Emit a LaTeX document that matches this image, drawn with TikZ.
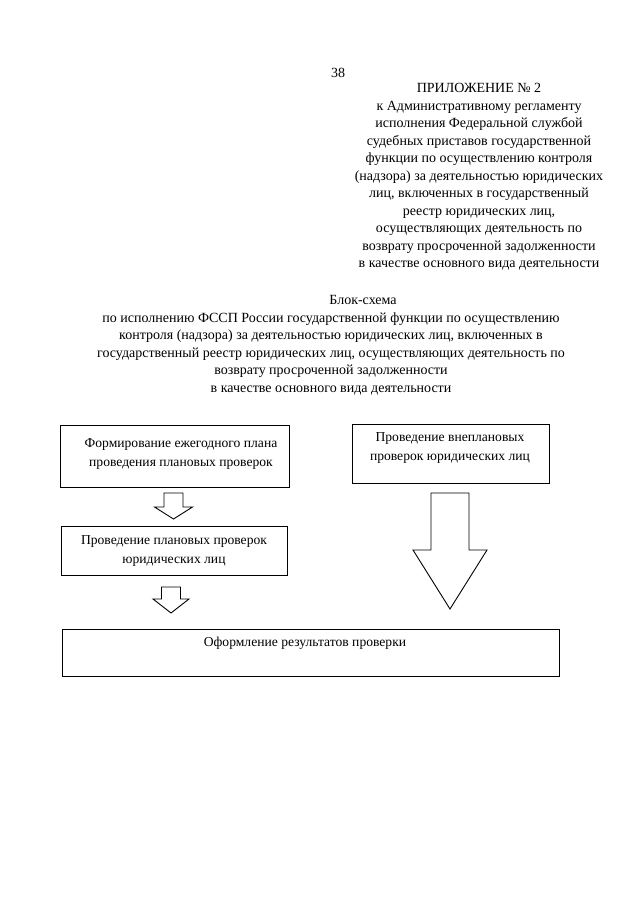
\documentclass[tikz,border=0pt]{standalone}
\usepackage{fontspec}
\setmainfont{Liberation Serif}
\newcommand\hollowdown[6]{%
  \draw[arrowshape] (#1-#5,#2) -- (#1+#5,#2) -- (#1+#5,#3) -- (#1+#6,#3) -- (#1,#4) -- (#1-#6,#3) -- (#1-#5,#3) -- cycle;}
\begin{document}
\begin{tikzpicture}[x=1pt,y=-1pt,
  txt/.style={font=\fontsize{14}{17.5}\selectfont, inner sep=0pt, align=center},
  btxt/.style={font=\fontsize{13.6}{18.5}\selectfont, inner sep=0pt, align=center},
  boxframe/.style={draw, line width=0.9pt, inner sep=0pt},
  arrowshape/.style={draw, line width=0.9pt, line join=miter}]
\useasboundingbox (0,0) rectangle (640,905);
\fill[white] (0,0) rectangle (640,905);
% page number
\node[txt] (page) at (338,73) {38};
% appendix header
\node[txt] (appx) at (479,177) {ПРИЛОЖЕНИЕ № 2\\
к Административному регламенту\\
исполнения Федеральной службой\\
судебных приставов государственной\\
функции по осуществлению контроля\\
(надзора) за деятельностью юридических\\
лиц, включенных в государственный\\
реестр юридических лиц,\\
осуществляющих деятельность по\\
возврату просроченной задолженности\\
в качестве основного вида деятельности};
% title
\node[txt] (ttl) at (363,300) {Блок-схема};
\node[txt] (sub) at (331,353.5) {по исполнению ФССП России государственной функции по осуществлению\\
контроля (надзора) за деятельностью юридических лиц, включенных в\\
государственный реестр юридических лиц, осуществляющих деятельность по\\
возврату просроченной задолженности\\
в качестве основного вида деятельности};
% boxes
\node[boxframe, minimum width=229pt, minimum height=62pt] (b1) at (174.5,456) {};
\node[btxt] (t1) at (181,454) {Формирование ежегодного плана\\проведения плановых проверок};
\node[boxframe, minimum width=197pt, minimum height=59pt] (b2) at (450.5,453.5) {};
\node[btxt] (t2) at (450,448) {Проведение внеплановых\\проверок юридических лиц};
\node[boxframe, minimum width=226pt, minimum height=49pt] (b3) at (174,550.5) {};
\node[btxt] (t3) at (174,551) {Проведение плановых проверок\\юридических лиц};
\node[boxframe, minimum width=497pt, minimum height=47pt] (b4) at (310.5,652.5) {};
\node[btxt] (t4) at (305,643) {Оформление результатов проверки};
% hollow arrows
\hollowdown{173.5}{493}{507}{519}{9.5}{19}
\hollowdown{171}{587}{599}{613}{9.5}{18}
\hollowdown{450}{493}{550}{609}{19}{37}
\end{tikzpicture}
\end{document}
